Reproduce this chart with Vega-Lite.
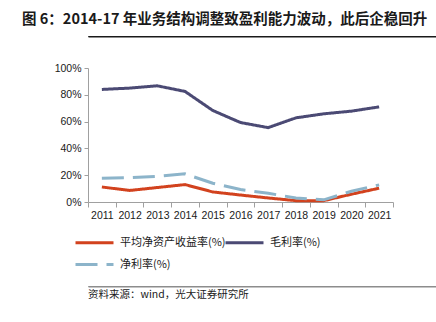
{
  "$schema": "https://vega.github.io/schema/vega-lite/v6.json",
  "padding": {"left": 22, "top": 11, "right": 8, "bottom": 4},
  "background": "white",
  "title": {
    "text": "图 6：2014-17 年业务结构调整致盈利能力波动，此后企稳回升",
    "anchor": "start",
    "font": "Noto Sans CJK SC",
    "fontSize": 14.5,
    "fontWeight": "bold",
    "color": "#1a1a1a",
    "offset": 6
  },
  "config": {
    "view": {"stroke": null},
    "font": "Liberation Sans"
  },
  "columns": 1,
  "align": "none",
  "spacing": 23,
  "concat": [
    {
      "width": 406,
      "height": 0.5,
      "view": {"stroke": "#1a1a1a", "strokeWidth": 1},
      "data": {"values": [{"a": 0}]},
      "mark": {"type": "point", "opacity": 0},
      "encoding": {}
    },
    {
      "columns": 1,
      "align": "none",
      "spacing": 62,
      "concat": [
        {
          "width": 305,
          "height": 134,
          "data": {
            "values": [
              {"year": "2011", "series": "平均净资产收益率(%)", "value": 11.2},
              {"year": "2012", "series": "平均净资产收益率(%)", "value": 8.6},
              {"year": "2013", "series": "平均净资产收益率(%)", "value": 10.8},
              {"year": "2014", "series": "平均净资产收益率(%)", "value": 13.0},
              {"year": "2015", "series": "平均净资产收益率(%)", "value": 7.5},
              {"year": "2016", "series": "平均净资产收益率(%)", "value": 5.2},
              {"year": "2017", "series": "平均净资产收益率(%)", "value": 3.0},
              {"year": "2018", "series": "平均净资产收益率(%)", "value": 1.0},
              {"year": "2019", "series": "平均净资产收益率(%)", "value": 1.0},
              {"year": "2020", "series": "平均净资产收益率(%)", "value": 5.8},
              {"year": "2021", "series": "平均净资产收益率(%)", "value": 10.3},
              {"year": "2011", "series": "毛利率(%)", "value": 84.0},
              {"year": "2012", "series": "毛利率(%)", "value": 85.0},
              {"year": "2013", "series": "毛利率(%)", "value": 86.7},
              {"year": "2014", "series": "毛利率(%)", "value": 82.5},
              {"year": "2015", "series": "毛利率(%)", "value": 68.3},
              {"year": "2016", "series": "毛利率(%)", "value": 59.3},
              {"year": "2017", "series": "毛利率(%)", "value": 55.5},
              {"year": "2018", "series": "毛利率(%)", "value": 62.8},
              {"year": "2019", "series": "毛利率(%)", "value": 65.8},
              {"year": "2020", "series": "毛利率(%)", "value": 67.8},
              {"year": "2021", "series": "毛利率(%)", "value": 71.0},
              {"year": "2011", "series": "净利率(%)", "value": 17.8},
              {"year": "2012", "series": "净利率(%)", "value": 18.2},
              {"year": "2013", "series": "净利率(%)", "value": 19.2},
              {"year": "2014", "series": "净利率(%)", "value": 21.0},
              {"year": "2015", "series": "净利率(%)", "value": 14.0},
              {"year": "2016", "series": "净利率(%)", "value": 9.3},
              {"year": "2017", "series": "净利率(%)", "value": 6.5},
              {"year": "2018", "series": "净利率(%)", "value": 3.0},
              {"year": "2019", "series": "净利率(%)", "value": 1.6},
              {"year": "2020", "series": "净利率(%)", "value": 8.0},
              {"year": "2021", "series": "净利率(%)", "value": 12.8}
            ]
          },
          "mark": {"type": "line", "strokeWidth": 3},
          "encoding": {
            "x": {
              "field": "year",
              "type": "ordinal",
              "bandPosition": 0.5,
              "scale": {"type": "band", "paddingInner": 0, "paddingOuter": 0},
              "axis": {
                "title": null,
                "labelAngle": 0,
                "labelFont": "Liberation Sans",
                "labelFontSize": 10.5,
                "labelColor": "#1a1a1a",
                "labelPadding": 3,
                "tickBand": "extent",
                "tickSize": 5,
                "tickColor": "#a0a0a0",
                "domainColor": "#a0a0a0",
                "grid": false
              }
            },
            "y": {
              "field": "value",
              "type": "quantitative",
              "scale": {"domain": [0, 100], "nice": false},
              "axis": {
                "title": null,
                "values": [0, 20, 40, 60, 80, 100],
                "labelExpr": "datum.value + '%'",
                "labelFont": "Liberation Sans",
                "labelFontSize": 10.5,
                "labelColor": "#1a1a1a",
                "labelPadding": 3,
                "tickSize": 4,
                "tickColor": "#a0a0a0",
                "domainColor": "#a0a0a0",
                "grid": false,
                "minExtent": 66
              }
            },
            "color": {
              "field": "series",
              "type": "nominal",
              "scale": {
                "domain": ["平均净资产收益率(%)", "毛利率(%)", "净利率(%)"],
                "range": ["#d2421e", "#4b4a74", "#8cb4ca"]
              },
              "legend": {
                "title": null,
                "orient": "none",
                "legendX": -3,
                "legendY": 197,
                "direction": "horizontal",
                "columns": 2,
                "columnPadding": -7,
                "rowPadding": 6,
                "symbolType": "M-2.5,0H2.5",
                "symbolSize": 231,
                "symbolStrokeWidth": 3,
                "labelFont": "Noto Sans CJK SC",
                "labelFontSize": 11,
                "labelColor": "#1a1a1a",
                "labelOffset": 16
              }
            },
            "strokeDash": {
              "field": "series",
              "type": "nominal",
              "scale": {
                "domain": ["平均净资产收益率(%)", "毛利率(%)", "净利率(%)"],
                "range": [[1, 0], [1, 0], [22, 9]]
              },
              "legend": {
                "title": null,
                "orient": "none",
                "legendX": -3,
                "legendY": 197,
                "direction": "horizontal",
                "columns": 2,
                "columnPadding": -7,
                "rowPadding": 6,
                "symbolType": "M-2.5,0H2.5",
                "symbolSize": 231,
                "symbolStrokeWidth": 3,
                "labelFont": "Noto Sans CJK SC",
                "labelFontSize": 11,
                "labelColor": "#1a1a1a",
                "labelOffset": 16
              }
            }
          }
        },
        {
          "width": 406,
          "height": 0.5,
          "view": {"stroke": "#8c8c8c", "strokeWidth": 1},
          "title": {
            "text": "资料来源：wind，光大证券研究所",
            "orient": "bottom",
            "anchor": "start",
            "font": "Noto Sans CJK SC",
            "fontSize": 10.5,
            "fontWeight": "normal",
            "color": "#1a1a1a",
            "offset": 1
          },
          "data": {"values": [{"a": 0}]},
          "mark": {"type": "point", "opacity": 0},
          "encoding": {}
        }
      ]
    }
  ]
}
